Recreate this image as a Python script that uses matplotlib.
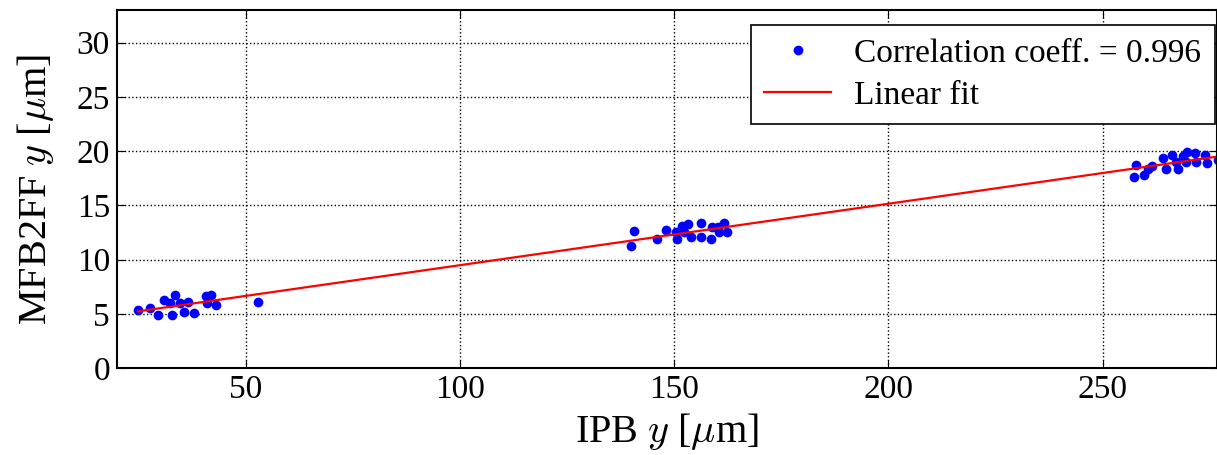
import numpy as np
import matplotlib
matplotlib.use("Agg")
import matplotlib.pyplot as plt

# IPB y vs MFB2FF y [um]
ipb_y = [24.9, 27.7, 29.6, 31.0, 32.8, 33.5, 32.4, 34.7, 35.6, 36.6, 38.0,
         40.8, 42.0, 41.0, 43.1, 53.0,
         139.9, 140.6, 145.9, 148.0, 150.4, 150.6, 151.8, 153.2, 152.3, 153.9,
         156.4, 156.2, 158.6, 158.8, 160.4, 161.6, 162.3, 160.2,
         257.4, 257.8, 259.7, 260.6, 261.6, 264.2, 264.9, 266.3, 267.2, 267.7,
         268.8, 269.8, 269.5, 271.6, 271.9, 274.0, 274.4, 277.0]
mfb_y = [5.37, 5.5, 4.9, 6.3, 4.9, 6.7, 6.0, 6.0, 5.2, 6.1, 5.1,
         6.6, 6.7, 6.0, 5.8, 6.1,
         11.2, 12.6, 11.9, 12.7, 12.5, 11.9, 13.1, 13.3, 12.5, 12.1,
         13.4, 12.1, 11.9, 13.0, 12.5, 13.4, 12.5, 13.0,
         17.6, 18.7, 17.8, 18.3, 18.6, 19.4, 18.3, 19.6, 19.0, 18.3,
         19.5, 19.9, 19.0, 19.8, 19.0, 19.6, 18.9, 19.2]
corr_label = 'Correlation coeff. = 0.996'

plt.rcParams['font.family'] = ['Liberation Serif', 'DejaVu Serif']
plt.rcParams['mathtext.fontset'] = 'cm'

x = np.array(ipb_y)
y = np.array(mfb_y)
p = np.polyfit(x, y, 1)
xf = np.array([x.min(), x.max()])

fig = plt.figure(figsize=(12.17, 4.55), dpi=100)
ax = fig.add_axes([117/1217, 1-368/455, 1-117/1217, (368-10)/455])

ax.plot(x, y, 'o', color='blue', markersize=7, markeredgewidth=0, label=corr_label)
ax.plot(xf, np.polyval(p, xf), '-', color='red', linewidth=1.6, label='Linear fit')

ax.set_xlim(20, 276.7)
ax.set_ylim(0, 33)
ax.set_xticks([50, 100, 150, 200, 250])
ax.set_yticks([0, 5, 10, 15, 20, 25, 30])
ax.tick_params(direction='in', top=True, right=True, labelsize=24, length=6, pad=5)
ax.grid(True, linestyle=':', color='black', linewidth=1)
for s in ax.spines.values():
    s.set_linewidth(1.5)

ax.set_xlabel(r'IPB $y$ [$\mu$m]', fontsize=29, labelpad=4)
ax.set_ylabel(r'MFB2FF $y$ [$\mu$m]', fontsize=29, labelpad=15)

leg = ax.legend(loc='upper right', bbox_to_anchor=(0.998, 0.958), fontsize=24,
                numpoints=1, fancybox=False, framealpha=1, edgecolor='black',
                borderaxespad=0, handlelength=2.0, labelspacing=0.35,
                borderpad=0.4, handletextpad=0.7)
leg.get_frame().set_linewidth(1.2)

fig.savefig('out.png', dpi=100)
